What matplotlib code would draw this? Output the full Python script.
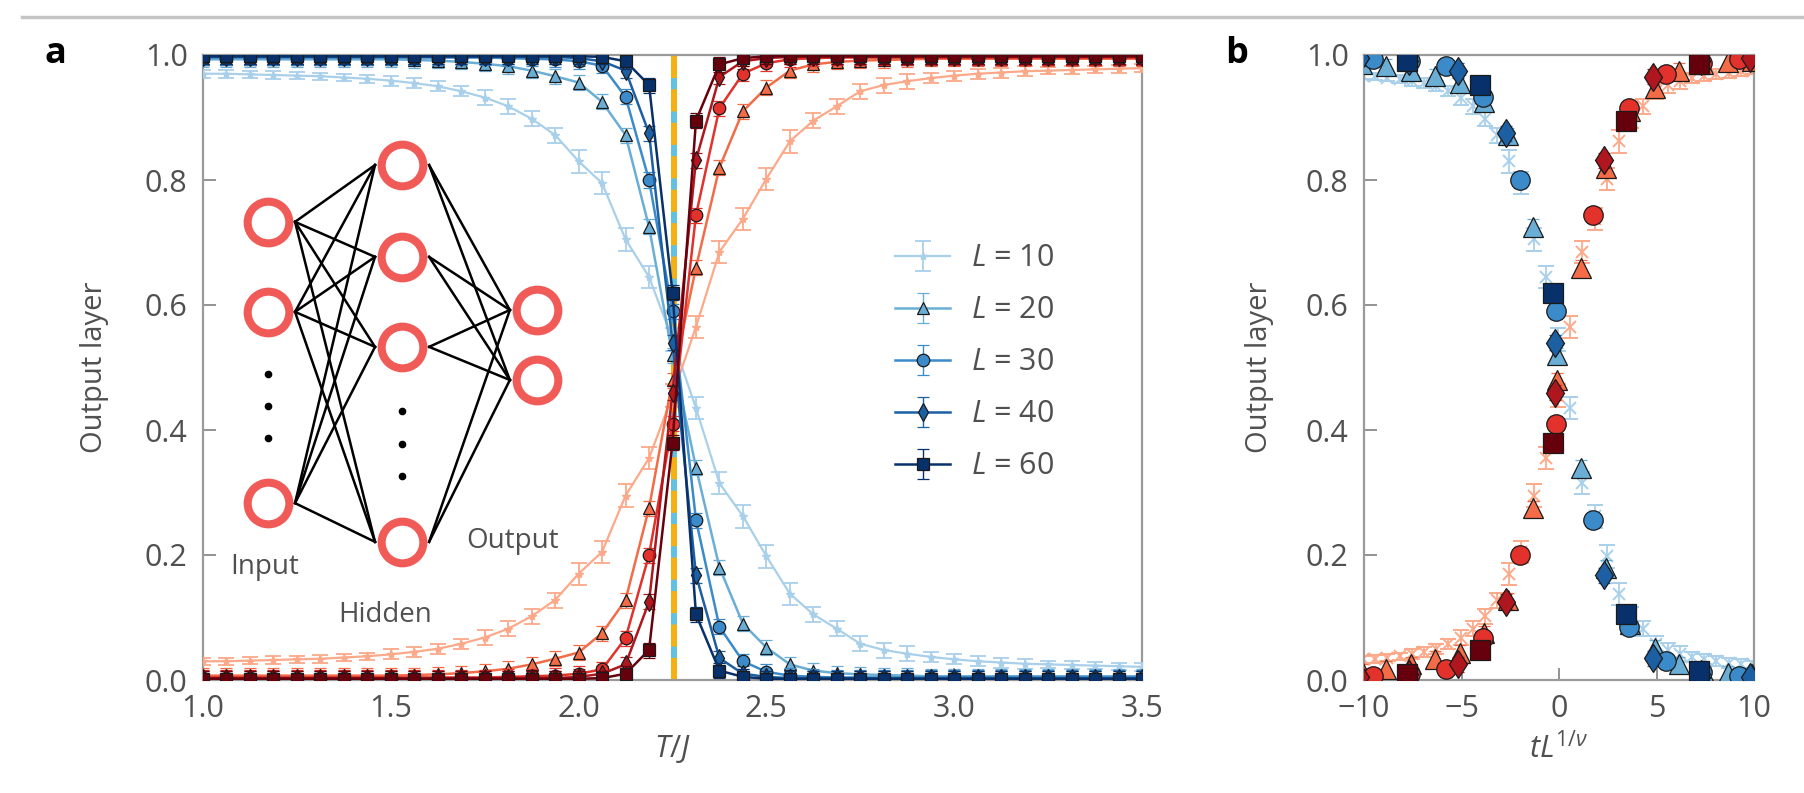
import numpy as np
import matplotlib
matplotlib.use('Agg')
import matplotlib.pyplot as plt
from matplotlib.lines import Line2D
from matplotlib.ticker import FormatStrFormatter

plt.rcParams['font.family'] = ['Open Sans', 'DejaVu Sans']
plt.rcParams['mathtext.fontset'] = 'custom'
plt.rcParams['mathtext.rm'] = 'Open Sans'
plt.rcParams['mathtext.it'] = 'Open Sans:italic'

# ---------------- data ----------------
T = [1.0, 1.0625, 1.125, 1.1875, 1.25, 1.3125, 1.375, 1.4375, 1.5, 1.5625,
     1.625, 1.6875, 1.75, 1.8125, 1.875, 1.9375, 2.0, 2.0625, 2.125, 2.1875,
     2.25, 2.3125, 2.375, 2.4375, 2.5, 2.5625, 2.625, 2.6875, 2.75, 2.8125,
     2.875, 2.9375, 3.0, 3.0625, 3.125, 3.1875, 3.25, 3.3125, 3.375, 3.4375, 3.5]
L_sizes = [10, 20, 30, 40, 60]
T_C = 2.255  # transition temperature marked by the dashed line

blue_L10 = [0.970, 0.970, 0.969, 0.968, 0.967, 0.966, 0.964, 0.962, 0.959, 0.955,
            0.950, 0.942, 0.932, 0.918, 0.898, 0.872, 0.830, 0.795, 0.705, 0.645,
            0.545, 0.435, 0.315, 0.262, 0.198, 0.138, 0.105, 0.082, 0.058, 0.048,
            0.042, 0.037, 0.033, 0.030, 0.028, 0.026, 0.025, 0.024, 0.023, 0.022, 0.021]
red_L10 = [0.030, 0.030, 0.031, 0.032, 0.033, 0.034, 0.036, 0.038, 0.041, 0.045,
           0.050, 0.058, 0.068, 0.082, 0.102, 0.128, 0.170, 0.205, 0.295, 0.355,
           0.455, 0.565, 0.685, 0.738, 0.802, 0.862, 0.895, 0.918, 0.942, 0.952,
           0.958, 0.963, 0.967, 0.970, 0.972, 0.974, 0.975, 0.976, 0.977, 0.978, 0.979]
err_L10 = ([0.006] * 8 + [0.008] * 4 + [0.012] * 4 + [0.018] * 10 +
           [0.012] * 5 + [0.008] * 5 + [0.006] * 5)

blue_L20 = ([0.993] * 9 + [0.992, 0.991, 0.989, 0.986, 0.982, 0.975, 0.966, 0.956,
                           0.925, 0.872, 0.725, 0.520, 0.340, 0.180, 0.090, 0.052,
                           0.025, 0.015, 0.011, 0.009, 0.008, 0.007] + [0.006] * 10)
red_L20 = ([0.007] * 9 + [0.008, 0.009, 0.011, 0.014, 0.018, 0.025, 0.034, 0.044,
                          0.075, 0.128, 0.275, 0.480, 0.660, 0.820, 0.910, 0.948,
                          0.975, 0.985, 0.989, 0.991, 0.992, 0.993] + [0.994] * 10)

blue_L30 = ([0.996] * 13 + [0.995, 0.994, 0.993, 0.990, 0.983, 0.933, 0.800, 0.590,
                            0.256, 0.085, 0.030, 0.013, 0.007, 0.005] + [0.004] * 14)
red_L30 = ([0.004] * 13 + [0.005, 0.006, 0.007, 0.010, 0.017, 0.067, 0.200, 0.410,
                           0.744, 0.915, 0.970, 0.987, 0.993, 0.995] + [0.996] * 14)

blue_L40 = ([0.997] * 16 + [0.995, 0.990, 0.975, 0.875, 0.540, 0.168, 0.035, 0.010,
                            0.005] + [0.003] * 16)
red_L40 = ([0.003] * 16 + [0.005, 0.010, 0.025, 0.125, 0.460, 0.832, 0.965, 0.990,
                           0.995] + [0.997] * 16)

blue_L60 = [0.998] * 17 + [0.997, 0.990, 0.952, 0.620, 0.105, 0.015, 0.005] + [0.002] * 17
red_L60 = [0.002] * 17 + [0.003, 0.010, 0.048, 0.380, 0.895, 0.985, 0.995] + [0.998] * 17
err_big = 0.012

blue_series = [blue_L10, blue_L20, blue_L30, blue_L40, blue_L60]
red_series = [red_L10, red_L20, red_L30, red_L40, red_L60]

# ---------------- style ----------------
blues = ['#a9d0ea', '#6aaed6', '#3b8bcb', '#1d5fa3', '#08306b']
reds = ['#fca98a', '#f36b47', '#e3312b', '#b0161e', '#67000d']
markers = ['*', '^', 'o', 'd', 's']
TXT = '#505050'
SPINE = '#9a9a9a'

W, H = 1804, 793
fig = plt.figure(figsize=(W / 100, H / 100), dpi=100)
ax1 = fig.add_axes([203 / W, 1 - 680 / H, 939 / W, 625 / H])
ax2 = fig.add_axes([1364 / W, 1 - 680 / H, 390 / W, 625 / H])

fig.add_artist(Line2D([0.012, 1.0], [0.979, 0.979], transform=fig.transFigure,
                      color='#c4c4c4', lw=2.5))

Tarr = np.array(T)

# ---------------- panel a ----------------
ax1.axvline(T_C, color='#62c0e0', lw=4.3, zorder=2)
ax1.axvline(T_C, color='#f5b012', lw=4.3, dashes=(3.7, 1.9), zorder=2.1)

handles = []
for i, L in enumerate(L_sizes):
    for vals, cols in ((blue_series[i], blues), (red_series[i], reds)):
        err = err_L10 if L == 10 else err_big
        if L == 10:
            c = ax1.errorbar(T, vals, yerr=err, color=cols[i], marker='*', ms=6,
                             mfc=cols[i], mec=cols[i], lw=1.6, elinewidth=1.3,
                             capsize=6, capthick=1.3, zorder=3)
        else:
            c = ax1.errorbar(T, vals, yerr=err, color=cols[i], marker=markers[i],
                             ms=9, mfc=cols[i], mec='#1a1a1a', mew=0.9, lw=1.8,
                             elinewidth=1.0, capsize=4, capthick=1.0, zorder=3 + i * 0.1)
        if cols is blues:
            handles.append(c)

leg = ax1.legend(handles, ['$L$ = %d' % L for L in L_sizes], loc='center left',
                 bbox_to_anchor=(0.737, 0.508), frameon=False, fontsize=22,
                 labelspacing=0.72, handlelength=1.8, handletextpad=0.7,
                 borderpad=0, borderaxespad=0)
for t in leg.get_texts():
    t.set_color(TXT)

# neural network inset (layout only)
ring = '#f05a57'
in_x, hid_x, out_x = 1.173, 1.530, 1.889
in_y = [0.733, 0.589, 0.283]
hid_y = [0.824, 0.677, 0.533, 0.221]
out_y = [0.592, 0.480]
off = 0.072
for yi in in_y:
    for yh in hid_y:
        ax1.plot([in_x + off, hid_x - off], [yi, yh], color='black', lw=1.8, zorder=1)
for yh in hid_y:
    for yo in out_y:
        ax1.plot([hid_x + off, out_x - off], [yh, yo], color='black', lw=1.8, zorder=1)
for xx, ys in ((in_x, in_y), (hid_x, hid_y), (out_x, out_y)):
    ax1.plot([xx] * len(ys), ys, 'o', ms=30, mfc='white', mec=ring, mew=5.8,
             ls='none', zorder=1.5)
ax1.plot([in_x] * 3, [0.49, 0.438, 0.387], 'o', color='black', ms=4.5, ls='none')
ax1.plot([hid_x] * 3, [0.43, 0.378, 0.326], 'o', color='black', ms=4.5, ls='none')
ax1.text(1.165, 0.181, 'Input', fontsize=20, color=TXT, ha='center', va='center')
ax1.text(1.485, 0.104, 'Hidden', fontsize=20, color=TXT, ha='center', va='center')
ax1.text(1.823, 0.222, 'Output', fontsize=20, color=TXT, ha='center', va='center')

ax1.set_xlim(1.0, 3.5)
ax1.set_ylim(0.0, 1.0)
ax1.set_xticks([1.0, 1.5, 2.0, 2.5, 3.0, 3.5])
ax1.xaxis.set_major_formatter(FormatStrFormatter('%.1f'))
ax1.set_xlabel('$T/J$', fontsize=22, color=TXT)
ax1.xaxis.set_label_coords(0.5, -0.085)

# ---------------- panel b ----------------
for i, L in enumerate(L_sizes):
    xb = (Tarr - T_C) * L
    keep = np.abs(xb) <= 10.6
    for vals, cols in ((blue_series[i], blues), (red_series[i], reds)):
        v = np.array(vals)[keep]
        if L == 10:
            e = np.array(err_L10)[keep]
            ax2.errorbar(xb[keep], v, yerr=e, color=cols[i], marker='x', ms=8,
                         mew=1.4, ls='none', elinewidth=1.3, capsize=6, capthick=1.3,
                         zorder=2)
        else:
            ax2.errorbar(xb[keep], v, yerr=err_big, color=cols[i], marker=markers[i],
                         ms=14 if markers[i] != 'd' else 14.5, mfc=cols[i],
                         mec='#1a1a1a', mew=0.9, ls='none', elinewidth=1.0,
                         capsize=4, zorder=3 + i * 0.1)

ax2.set_xlim(-10, 10)
ax2.set_ylim(0.0, 1.0)
ax2.set_xticks([-10, -5, 0, 5, 10])
ax2.set_xlabel('$tL^{1/\\nu}$', fontsize=22, color=TXT)
ax2.xaxis.set_label_coords(0.5, -0.085)

for ax, lx in ((ax1, -0.100), (ax2, -0.231)):
    ax.set_yticks([0.0, 0.2, 0.4, 0.6, 0.8, 1.0])
    ax.yaxis.set_major_formatter(FormatStrFormatter('%.1f'))
    ax.set_ylabel('Output layer', fontsize=21, color=TXT)
    ax.yaxis.set_label_coords(lx, 0.5)
    ax.tick_params(direction='in', length=9, width=1.3, color='#8a8a8a',
                   labelsize=22, labelcolor=TXT, pad=10)
    ax.tick_params(axis='y', pad=11)
    for s in ax.spines.values():
        s.set_color(SPINE)
        s.set_linewidth(1.6)

fig.text(55 / W, 1 - 54 / H, 'a', fontsize=26, fontweight='bold', color='black',
         ha='center', va='center')
fig.text(1237 / W, 1 - 54 / H, 'b', fontsize=26, fontweight='bold', color='black',
         ha='center', va='center')

fig.savefig('out.png', dpi=100)
